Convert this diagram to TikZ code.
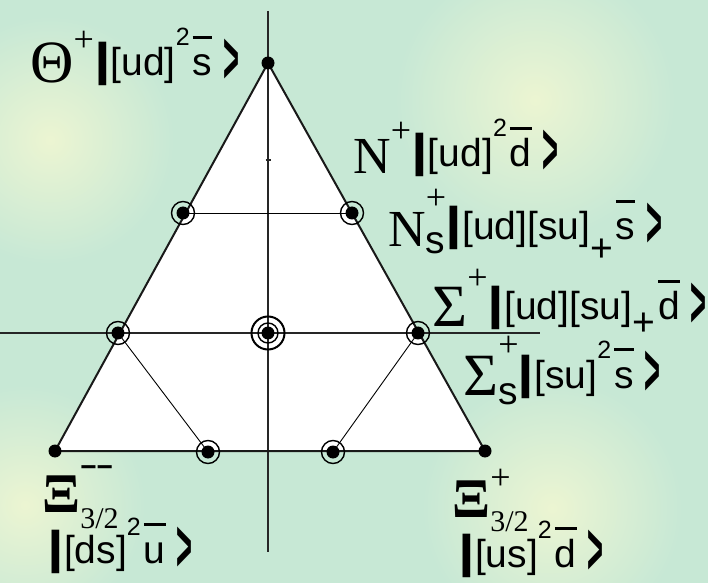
\documentclass[tikz,border=0pt]{standalone}
\usepackage{fontspec}
\usepackage{graphicx}
\setmainfont{Liberation Serif}
\setsansfont{Liberation Sans}
\usetikzlibrary{positioning}

\definecolor{bgreen}{RGB}{199,232,213}
\definecolor{glow}{RGB}{236,245,210}

% pieces of the labels
\newcommand{\grk}[2]{\raisebox{-3.5pt}{\fontsize{#1}{#1}\selectfont\rmfamily #2}}
\newcommand{\kbar}{{\fontsize{23}{23}\selectfont\bfseries\scalebox{1.3}[1]{|}}}
\newcommand{\kang}{\raisebox{-4pt}{\scalebox{0.7}[1.9]{\bfseries >}}}
\newcommand{\qbar}[1]{\kern1.5pt\setbox0\hbox{#1}\rlap{\raisebox{0.95em}{\rule{\wd0}{1.5pt}}}\box0}
\newcommand{\rsup}[2]{\raisebox{#1}{\fontsize{18}{18}\selectfont\rmfamily #2}}
\newcommand{\ssup}[2]{\raisebox{#1}{\fontsize{12.5}{12.5}\selectfont #2}}

\begin{document}
\begin{tikzpicture}[x=0.5pt, y=-0.5pt,
    dot/.style={circle, fill=black, inner sep=0pt, minimum size=6.5pt},
    ring/.style={circle, draw=black, line width=0.7pt, inner sep=0pt, minimum size=11.5pt},
    axis/.style={line width=0.7pt, black!85},
    edge/.style={line width=1pt, black!90},
    link/.style={line width=0.45pt},
    lbl/.style={anchor=base west, inner sep=0pt, font=\fontsize{19.5}{21}\selectfont\sffamily}
]
\useasboundingbox (0,0) rectangle (708,583);
\fill[bgreen] (0,0) rectangle (708,583);
\begin{scope}
\clip (0,0) rectangle (708,583);
\shade[inner color=glow, outer color=bgreen] (50,140) circle[radius=62pt];
\shade[inner color=glow, outer color=bgreen] (535,100) circle[radius=70pt];
\shade[inner color=glow, outer color=bgreen] (25,505) circle[radius=60pt];
\shade[inner color=glow, outer color=bgreen] (552,508) circle[radius=65pt];
\end{scope}

% weight diagram
\coordinate (top) at (268,63);
\coordinate (bl) at (55,451);
\coordinate (br) at (485,451);
\coordinate (nl) at (183,213);
\coordinate (nr) at (352,213);
\coordinate (sl) at (118,333);
\coordinate (sr) at (418,333);
\coordinate (c) at (268,333);
\coordinate (xl) at (208,452);
\coordinate (xr) at (333,452);
\coordinate (axT) at (268,11);
\coordinate (axB) at (268,552);
\coordinate (axL) at (0,333);
\coordinate (axR) at (540,333);

\fill[white] (top) -- (bl) -- (br) -- cycle;
\draw[axis] (axT) -- (axB);
\draw[axis] (axL) -- (axR);
\draw[axis] (265.5,160) -- (270.5,160);
\draw[edge, line join=round] (top) -- (bl) -- (br) -- cycle;
\draw[link] (nl) -- (nr);
\draw[link] (sl) -- (xl);
\draw[link] (sr) -- (xr);

\foreach \p in {nl,nr,sl,sr,xl,xr}
  \node[ring] at (\p) {};
\node[ring, minimum size=10pt] at (c) {};
\node[ring, minimum size=16.5pt, line width=1pt] at (c) {};
\foreach \p in {top,bl,br,nl,nr,sl,sr,c,xl,xr}
  \node[dot] at (\p) {};

% labels
\node[lbl] (thetaL) at (30,76) {\grk{30}{Θ}\rsup{12pt}{+}\kbar[ud]\ssup{15pt}{2}\qbar{s}\;\kang};
\node[lbl] (nL) at (353,167) {\grk{26}{N}\rsup{12pt}{+}\kbar[ud]\ssup{15pt}{2}\qbar{d}\;\kang};
\node[lbl] (nsL) at (388,240) {\grk{26}{N}\rlap{\rsup{15pt}{+}}\raisebox{-7pt}{s}\kbar[ud][su]\raisebox{-11pt}{+}\qbar{s}\;\kang};
\node[lbl] (sigL) at (432,320) {\grk{30}{Σ}\rsup{15pt}{+}\kbar[ud][su]\raisebox{-8pt}{+}\qbar{d}\;\kang};
\node[lbl] (sigsL) at (463,388) {\grk{30}{Σ}\rlap{\rsup{16pt}{+}}\raisebox{-8pt}{s}\kbar[su]\ssup{15pt}{2}\qbar{s}\;\kang};
\node[lbl] (xiaL) at (42,512) {{\fontsize{28}{28}\selectfont\rmfamily\bfseries Ξ}\rlap{\raisebox{18pt}{\fontsize{14}{14}\selectfont\bfseries −−}}\raisebox{-8pt}{\fontsize{15}{15}\selectfont\rmfamily 3/2}};
\node[lbl] (xiaK) at (47,563) {\kbar[ds]\ssup{14pt}{2}\qbar{u}\;\kang};
\node[lbl] (xibL) at (452,517) {{\fontsize{28}{28}\selectfont\rmfamily\bfseries Ξ}\rlap{\raisebox{14pt}{\fontsize{18}{18}\selectfont\rmfamily +}}\raisebox{-7pt}{\fontsize{15}{15}\selectfont\rmfamily 3/2}};
\node[lbl] (xibK) at (458,567) {\kbar[us]\ssup{14pt}{2}\qbar{d}\;\kang};
\end{tikzpicture}
\end{document}
